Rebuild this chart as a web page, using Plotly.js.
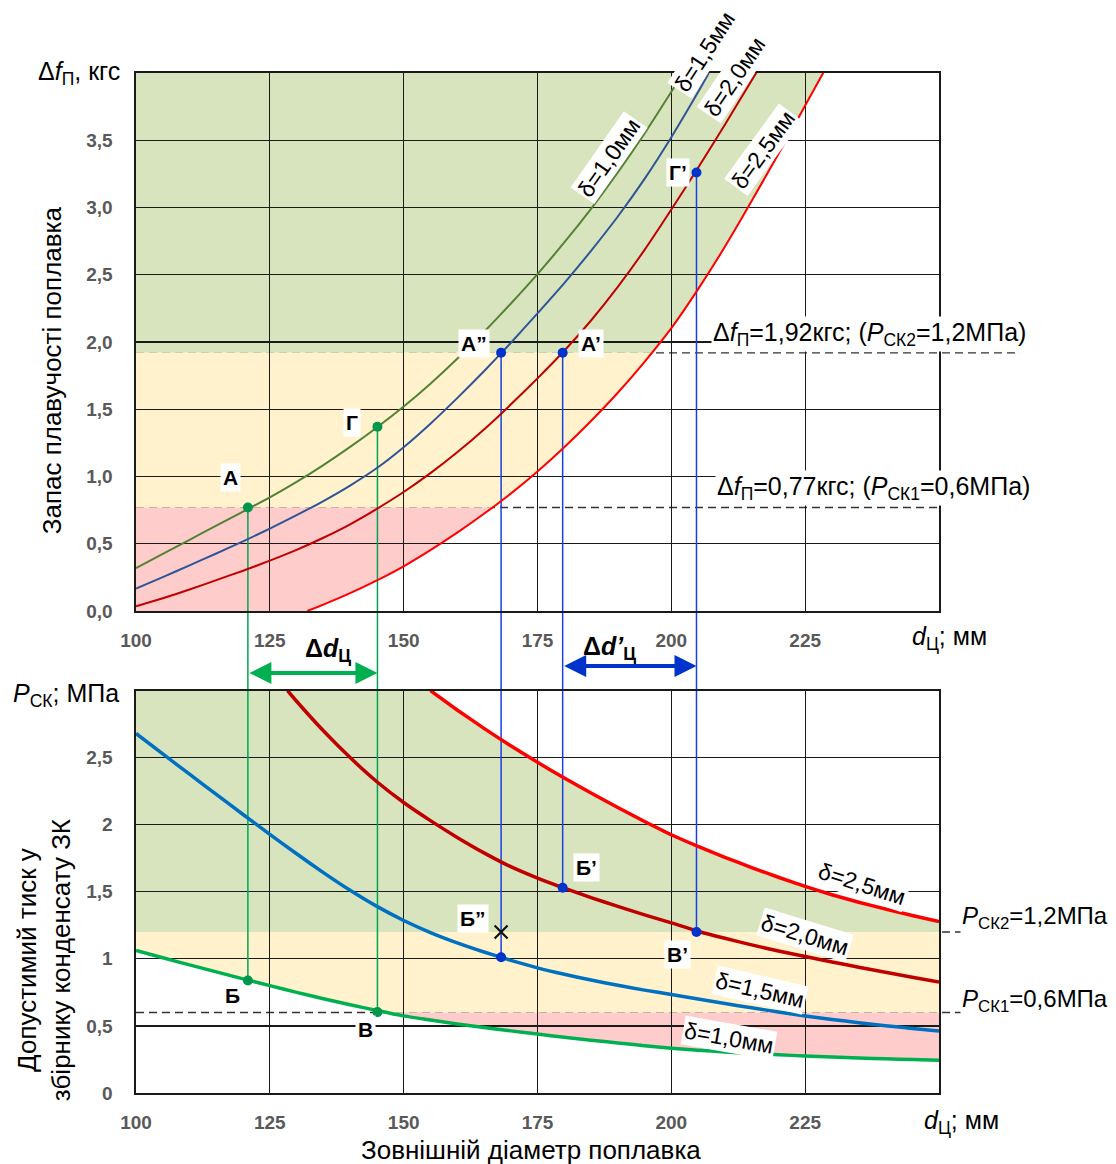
<!DOCTYPE html>
<html><head><meta charset="utf-8">
<script src="https://cdn.plot.ly/plotly-3.0.1.min.js"></script>
<style>html,body{margin:0;padding:0;background:#fff}</style>
</head><body>
<div id="chart" style="width:1116px;height:1164px"></div>
<script>
// ---------- DATA ----------
// Upper chart: buoyancy reserve Δf (kgf) vs float outer diameter d (mm), wall thickness δ
const topD10_x = [100,105,110,115,120,125,130,135,140,145,150,155,160,165,170,175,180,185,190,195,200,202.2];
const topD10_y = [0.32,0.425,0.53,0.635,0.74,0.845,0.96,1.085,1.22,1.365,1.52,1.69,1.875,2.075,2.285,2.505,2.74,2.99,3.26,3.55,3.86,4.0];
const topD15_x = [100,105,110,115,120,125,130,135,140,145,150,155,160,165,170,175,180,185,190,195,200,205,207];
const topD15_y = [0.167,0.252,0.34,0.428,0.518,0.613,0.713,0.818,0.933,1.063,1.218,1.393,1.583,1.783,1.993,2.213,2.438,2.678,2.933,3.213,3.523,3.858,4.0];
const topD20_x = [100,105,110,115,120,125,130,135,140,145,150,155,160,165,170,175,180,185,190,195,200,205,210,215,216];
const topD20_y = [0.035,0.095,0.16,0.23,0.30,0.375,0.455,0.545,0.645,0.76,0.885,1.025,1.18,1.35,1.535,1.73,1.935,2.16,2.41,2.685,2.985,3.295,3.615,3.945,4.01];
const topD25_x = [132,135,140,145,150,155,160,165,170,175,180,185,190,195,200,205,210,215,220,225,228.5];
const topD25_y = [0,0.048,0.133,0.228,0.333,0.453,0.583,0.723,0.873,1.038,1.218,1.413,1.623,1.853,2.103,2.393,2.708,3.048,3.398,3.758,4.01];

// Lower chart: allowed pressure P (MPa) vs float outer diameter d (mm)
const botD10_x = [100,105,110,115,120,125,130,135,140,145,150,155,160,165,170,175,180,185,190,195,200,205,210,215,220,225,230,235,240,245,250];
const botD10_y = [1.062,1.008,0.955,0.903,0.851,0.80,0.75,0.703,0.658,0.615,0.575,0.544,0.515,0.488,0.463,0.439,0.416,0.394,0.373,0.353,0.334,0.319,0.306,0.295,0.285,0.276,0.268,0.261,0.255,0.25,0.245];
const botD15_x = [100,105,110,115,120,125,130,135,140,145,150,155,160,165,170,175,180,185,190,195,200,205,210,215,220,225,230,235,240,245,250];
const botD15_y = [2.68,2.528,2.376,2.226,2.076,1.928,1.783,1.643,1.511,1.391,1.286,1.196,1.119,1.051,0.989,0.933,0.885,0.842,0.803,0.767,0.734,0.70,0.667,0.635,0.604,0.574,0.548,0.524,0.502,0.481,0.462];
const botD20_x = [128.3,130,135,140,145,150,155,160,165,170,175,180,185,190,195,200,205,210,215,220,225,230,235,240,245,250];
const botD20_y = [3.0,2.92,2.70,2.50,2.32,2.165,2.03,1.905,1.79,1.687,1.602,1.527,1.457,1.391,1.328,1.268,1.206,1.153,1.104,1.059,1.017,0.977,0.938,0.90,0.863,0.827];
const botD25_x = [155,160,165,170,175,180,185,190,195,200,205,210,215,220,225,230,235,240,245,250];
const botD25_y = [3.0,2.855,2.718,2.588,2.465,2.348,2.236,2.128,2.024,1.925,1.838,1.757,1.68,1.608,1.54,1.478,1.422,1.371,1.323,1.278];

// Thresholds
const dfLevels = [0.77, 1.92];   // kgf
const pLevels  = [0.6, 1.2];     // MPa

// Key points
const topGreenPts_x = [120.9, 145.1], topGreenPts_y = [0.77, 1.37];
const topBluePts_x  = [168.2, 179.7, 204.7], topBluePts_y = [1.92, 1.92, 3.26];
const botGreenPts_x = [120.9, 145.1], botGreenPts_y = [0.838, 0.603];
const botBluePts_x  = [179.7, 204.7, 168.2], botBluePts_y = [1.53, 1.2, 1.012];
const botCross_x = [168.2], botCross_y = [1.2];

// Ticks
const xTicks = [100,125,150,175,200,225,250];
const xTickText = ['100','125','150','175','200','225',''];
const dfTicks = [0,0.5,1,1.5,2,2.5,3,3.5,4];
const dfTickText = ['0,0','0,5','1,0','1,5','2,0','2,5','3,0','3,5',''];
const pTicks = [0,0.5,1,1.5,2,2.5,3];
const pTickText = ['0','0,5','1','1,5','2','2,5',''];

const curveLabels = ['δ=1,0мм','δ=1,5мм','δ=2,0мм','δ=2,5мм'];

// ---------- STYLE / GEOMETRY ----------
const FONT = '"Liberation Sans", Arial, sans-serif';
const GREEN_FILL = '#d8e4bd', YELLOW_FILL = '#fff2cc', PINK_FILL = '#ffcccc';
const TOP_COLORS = ['#548235','#2f5597','#c00000','#ff0000'];
const BOT_COLORS = ['#00b050','#0070c0','#c00000','#ff0000'];
const TOP_DOM = [0.4725, 1], BOT_DOM = [0, 0.3946];
const X0 = 100, X1 = 250, TOPMAX = 4, BOTMAX = 3;

function crossX(xs, ys, v) {
  for (let i = 0; i < xs.length - 1; i++) {
    const a = ys[i] - v, b = ys[i+1] - v;
    if (a === 0) return xs[i];
    if (b === 0) return xs[i+1];
    if (a * b < 0) return xs[i] + (xs[i+1] - xs[i]) * a / (a - b);
  }
  return xs[xs.length - 1];
}
function pathOf(pts) { return 'M' + pts.map(p => p[0] + ',' + p[1]).join('L') + 'Z'; }

const shapes = [];
// Upper fills: region left of δ=2.5 curve, split by Δf levels
function topBand(lo, hi, color) {
  const pts = [[X0, lo], [X0, hi]];
  pts.push([crossX(topD25_x, topD25_y, hi), hi]);
  for (let i = topD25_x.length - 1; i >= 0; i--) {
    if (topD25_y[i] < hi && topD25_y[i] > lo) pts.push([topD25_x[i], topD25_y[i]]);
  }
  pts.push([crossX(topD25_x, topD25_y, lo), lo]);
  shapes.push({type:'path', xref:'x', yref:'y', path:pathOf(pts), fillcolor:color, line:{width:0}, layer:'below'});
}
topBand(dfLevels[1], TOPMAX, GREEN_FILL);
topBand(dfLevels[0], dfLevels[1], YELLOW_FILL);
topBand(0, dfLevels[0], PINK_FILL);

// Lower fills: region between δ=1.0 and δ=2.5 curves, split by P levels
(function(){
  let pts = [[X0, pLevels[1]], [X0, BOTMAX]];
  botD25_x.forEach((x,i) => pts.push([x, botD25_y[i]]));
  pts.push([X1, pLevels[1]]);
  shapes.push({type:'path', xref:'x2', yref:'y2', path:pathOf(pts), fillcolor:GREEN_FILL, line:{width:0}, layer:'below'});
  const xc = crossX(botD10_x, botD10_y, pLevels[0]);
  pts = [[X0, pLevels[1]], [X1, pLevels[1]], [X1, pLevels[0]], [xc, pLevels[0]]];
  for (let i = botD10_x.length - 1; i >= 0; i--) if (botD10_x[i] < xc) pts.push([botD10_x[i], botD10_y[i]]);
  shapes.push({type:'path', xref:'x2', yref:'y2', path:pathOf(pts), fillcolor:YELLOW_FILL, line:{width:0}, layer:'below'});
  pts = [[xc, pLevels[0]], [X1, pLevels[0]]];
  for (let i = botD10_x.length - 1; i >= 0; i--) if (botD10_x[i] > xc) pts.push([botD10_x[i], botD10_y[i]]);
  shapes.push({type:'path', xref:'x2', yref:'y2', path:pathOf(pts), fillcolor:PINK_FILL, line:{width:0}, layer:'below'});
})();

// Dashed threshold lines
const dashLine = {color:'#333', width:1.3, dash:'8px,5px'};
shapes.push({type:'line', xref:'paper', yref:'y', x0:0, x1:1.101, y0:dfLevels[1], y1:dfLevels[1], line:dashLine, layer:'between'});
shapes.push({type:'line', xref:'paper', yref:'y', x0:0, x1:1, y0:dfLevels[0], y1:dfLevels[0], line:dashLine, layer:'between'});
shapes.push({type:'line', xref:'paper', yref:'y2', x0:0, x1:1.097, y0:pLevels[1], y1:pLevels[1], line:dashLine, layer:'between'});
shapes.push({type:'line', xref:'paper', yref:'y2', x0:0, x1:1.097, y0:pLevels[0], y1:pLevels[0], line:dashLine, layer:'between'});

// Vertical link lines from upper points to lower points
function link(x, yTop, yBot, color) {
  const ln = {color:color, width:1.5};
  shapes.push({type:'line', xref:'x', yref:'y', x0:x, x1:x, y0:yTop, y1:0, line:ln, layer:'between'});
  shapes.push({type:'line', xref:'x', yref:'paper', x0:x, x1:x, y0:BOT_DOM[1], y1:TOP_DOM[0], line:ln, layer:'between'});
  shapes.push({type:'line', xref:'x2', yref:'y2', x0:x, x1:x, y0:BOTMAX, y1:yBot, line:ln, layer:'between'});
}
const GL = '#00a651', BL = '#1a3fe0';
link(topGreenPts_x[0], topGreenPts_y[0], botGreenPts_y[0], GL);
link(topGreenPts_x[1], topGreenPts_y[1], botGreenPts_y[1], GL);
link(topBluePts_x[0], topBluePts_y[0], botBluePts_y[2], BL);
link(topBluePts_x[1], topBluePts_y[1], botBluePts_y[0], BL);
link(topBluePts_x[2], topBluePts_y[2], botBluePts_y[1], BL);

// ---------- TRACES ----------
const traces = [];
function line(xs, ys, color, w, xa, ya) {
  traces.push({type:'scatter', mode:'lines', x:xs, y:ys, xaxis:xa, yaxis:ya,
    line:{color:color, width:w, shape:'spline', smoothing:0.5}, hoverinfo:'skip'});
}
line(topD10_x, topD10_y, TOP_COLORS[0], 2, 'x', 'y');
line(topD15_x, topD15_y, TOP_COLORS[1], 2, 'x', 'y');
line(topD20_x, topD20_y, TOP_COLORS[2], 2, 'x', 'y');
line(topD25_x, topD25_y, TOP_COLORS[3], 2, 'x', 'y');
line(botD10_x, botD10_y, BOT_COLORS[0], 3.5, 'x2', 'y2');
line(botD15_x, botD15_y, BOT_COLORS[1], 3.5, 'x2', 'y2');
line(botD20_x, botD20_y, BOT_COLORS[2], 3.5, 'x2', 'y2');
line(botD25_x, botD25_y, BOT_COLORS[3], 3.5, 'x2', 'y2');

function pts(xs, ys, color, xa, ya, sym, sz) {
  traces.push({type:'scatter', mode:'markers', x:xs, y:ys, xaxis:xa, yaxis:ya, hoverinfo:'skip', cliponaxis:false,
    marker:{color:color, size:sz||10, symbol:sym||'circle', line:{width: sym ? 2.2 : 0, color:color}}});
}
pts(topGreenPts_x, topGreenPts_y, '#00964b', 'x', 'y');
pts(topBluePts_x, topBluePts_y, '#0033cc', 'x', 'y');
pts(botGreenPts_x, botGreenPts_y, '#00964b', 'x2', 'y2');
pts(botBluePts_x, botBluePts_y, '#0033cc', 'x2', 'y2');
pts(botCross_x, botCross_y, '#111', 'x2', 'y2', 'x-thin', 13);

// ---------- ANNOTATIONS ----------
const annotations = [];
function ann(text, x, y, xref, yref, o) {
  annotations.push(Object.assign({text:text, x:x, y:y, xref:xref, yref:yref, showarrow:false,
    xanchor:'center', yanchor:'middle', font:{family:FONT, size:20, color:'#000'}}, o || {}));
}
const ptLab = {font:{family:FONT, size:21, color:'#000', weight:700}, bgcolor:'#fff', borderpad:2};
ann('<b>А</b>', 117.7, 0.99, 'x', 'y', ptLab);
ann('<b>Г</b>', 140.3, 1.40, 'x', 'y', ptLab);
ann('<b>А”</b>', 163.1, 1.99, 'x', 'y', ptLab);
ann('<b>А’</b>', 185.0, 1.99, 'x', 'y', ptLab);
ann('<b>Г’</b>', 201.2, 3.26, 'x', 'y', ptLab);
ann('<b>Б</b>', 118.1, 0.73, 'x2', 'y2', ptLab);
ann('<b>В</b>', 142.8, 0.47, 'x2', 'y2', ptLab);
ann('<b>Б’</b>', 184.2, 1.68, 'x2', 'y2', ptLab);
ann('<b>В’</b>', 201.2, 1.03, 'x2', 'y2', ptLab);
ann('<b>Б”</b>', 162.9, 1.30, 'x2', 'y2', ptLab);

const cLab = {font:{family:FONT, size:23, color:'#000'}, bgcolor:'#fff', borderpad:1};
ann(curveLabels[0], 188.3, 3.37, 'x', 'y', Object.assign({textangle:-55}, cLab));
ann(curveLabels[1], 206.2, 1.0206, 'x', 'paper', Object.assign({textangle:-57}, cLab));
ann(curveLabels[2], 211.8, 3.97, 'x', 'y', Object.assign({textangle:-56}, cLab));
ann(curveLabels[3], 217.1, 3.43, 'x', 'y', Object.assign({textangle:-54}, cLab));
ann(curveLabels[3], 235.6, 1.557, 'x2', 'y2', Object.assign({textangle:18}, cLab));
ann(curveLabels[2], 225.0, 1.178, 'x2', 'y2', Object.assign({textangle:17}, cLab));
ann(curveLabels[1], 216.5, 0.769, 'x2', 'y2', Object.assign({textangle:13}, cLab));
ann(curveLabels[0], 210.8, 0.409, 'x2', 'y2', Object.assign({textangle:10}, cLab));

const rLab = {xanchor:'left', font:{family:FONT, size:25, color:'#000'}, bgcolor:'#fff', borderpad:1};
ann('Δ<i>f</i><sub>П</sub>=1,92кгс; (<i>P</i><sub>СК2</sub>=1,2МПа)', 0.716, 2.06, 'paper', 'y', rLab);
ann('Δ<i>f</i><sub>П</sub>=0,77кгс; (<i>P</i><sub>СК1</sub>=0,6МПа)', 0.721, 0.913, 'paper', 'y', rLab);
const rLab2 = Object.assign({}, rLab, {font:{family:FONT, size:24, color:'#000'}});
ann('<i>P</i><sub>СК2</sub>=1,2МПа', 1.026, 1.31, 'paper', 'y2', rLab2);
ann('<i>P</i><sub>СК1</sub>=0,6МПа', 1.026, 0.69, 'paper', 'y2', rLab2);

const uLab = {font:{family:FONT, size:25, color:'#000'}};
ann('Δ<i>f</i><sub>П</sub>, кгс', -0.017, 4.0, 'paper', 'y', Object.assign({xanchor:'right'}, uLab));
ann('<i>P</i><sub>СК</sub>; МПа', -0.019, 2.97, 'paper', 'y2', Object.assign({xanchor:'right'}, uLab));
ann('<i>d</i><sub>Ц</sub>; мм', 0.964, 0.4461, 'paper', 'paper', Object.assign({xanchor:'left'}, uLab));
ann('<i>d</i><sub>Ц</sub>; мм', 0.979, -0.0284, 'paper', 'paper', Object.assign({xanchor:'left'}, uLab));

const tLab = {font:{family:FONT, size:26, color:'#000'}};
ann('Запас плавучості поплавка', -0.1046, 1.79, 'paper', 'y', Object.assign({textangle:-90}, tLab));
ann('Допустимий тиск у<br>збірнику конденсату ЗК', -0.1146, 0.99, 'paper', 'y2', Object.assign({textangle:-90}, tLab));
ann('Зовнішній діаметр поплавка', 0.492, -0.056, 'paper', 'paper', tLab);

ann('<b>Δ<i>d</i><sub>Ц</sub></b>', 135.8, 0.4343, 'x', 'paper', {font:{family:FONT, size:25, color:'#000'}});
ann('<b>Δ<i>d’</i><sub>Ц</sub></b>', 188.5, 0.4363, 'x', 'paper', {font:{family:FONT, size:25, color:'#000'}});

// double arrows (Δd ranges)
function dblArrow(xa, xb, yPaper, color) {
  annotations.push({text:'', xref:'x', yref:'paper', axref:'x', ayref:'pixel', x:xb, y:yPaper, ax:xa, ay:0,
    showarrow:true, arrowhead:2, startarrowhead:2, arrowside:'end+start', arrowsize:1.1, startarrowsize:1.1,
    arrowwidth:4, arrowcolor:color, standoff:0, startstandoff:0});
}
dblArrow(topGreenPts_x[0], topGreenPts_x[1], 0.4118, '#00b050');
dblArrow(topBluePts_x[1], topBluePts_x[2], 0.4186, '#0033cc');

// ---------- LAYOUT ----------
const axisCommon = {showgrid:true, gridcolor:'#1a1a1a', gridwidth:1.3, showline:true, linecolor:'#1a1a1a', linewidth:1.6,
  mirror:true, zeroline:false, ticks:'', fixedrange:true,
  tickfont:{family:FONT, size:19, color:'#595959', weight:700}};
const layout = {
  width:1116, height:1164, margin:{l:136, r:177, t:73, b:71},
  paper_bgcolor:'#fff', plot_bgcolor:'#fff', showlegend:false,
  xaxis: Object.assign({}, axisCommon, {domain:[0,1], range:[X0,X1], anchor:'y', tickmode:'array', tickvals:xTicks, ticktext:xTickText, ticklabelstandoff:12}),
  yaxis: Object.assign({}, axisCommon, {domain:TOP_DOM, range:[0,TOPMAX], anchor:'x', tickmode:'array', tickvals:dfTicks, ticktext:dfTickText, ticklabelstandoff:18}),
  xaxis2: Object.assign({}, axisCommon, {domain:[0,1], range:[X0,X1], anchor:'y2', tickmode:'array', tickvals:xTicks, ticktext:xTickText, ticklabelstandoff:12}),
  yaxis2: Object.assign({}, axisCommon, {domain:BOT_DOM, range:[0,BOTMAX], anchor:'x2', tickmode:'array', tickvals:pTicks, ticktext:pTickText, ticklabelstandoff:18}),
  shapes: shapes, annotations: annotations
};
Plotly.newPlot('chart', traces, layout, {staticPlot:true, displayModeBar:false});
</script></body></html>
